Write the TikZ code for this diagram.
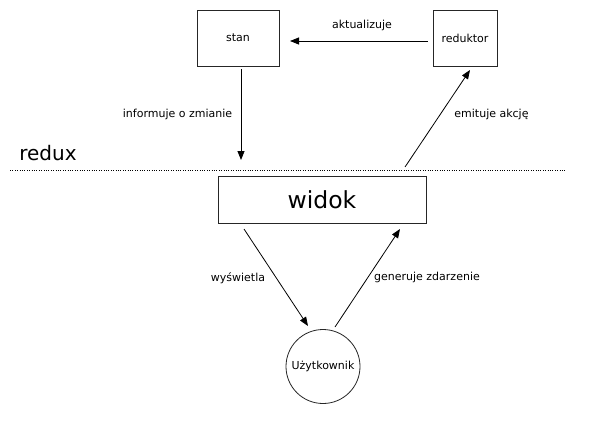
\documentclass[tikz,border=0pt]{standalone}
\usepackage{fontspec}
\setmainfont{DejaVu Sans}
\usetikzlibrary{arrows.meta}

\tikzset{
	box/.style={draw=black!85, line width=0.8pt, inner sep=0pt, font=\fontsize{11}{13}\selectfont},
	lbl/.style={inner sep=0pt, font=\fontsize{11}{13}\selectfont},
	flow/.style={line width=0.8pt, -{Triangle[length=9pt,width=7pt]}}
}

\begin{document}
\begin{tikzpicture}[x=1pt, y=-1pt]
			%%%%% START %%%%%
			\useasboundingbox (0, 0) rectangle (593, 426);
			
			\node[box, minimum width=82pt, minimum height=56pt] (stan) at (238, 38) {stan};
			\node[box, minimum width=64pt, minimum height=56pt] (reduktor) at (465, 38) {reduktor};
			\node[box, minimum width=208pt, minimum height=47pt, font=\fontsize{23.5}{26}\selectfont] (widok) at (322, 199.5) {widok};
			\node[box, circle, minimum size=74pt] (user) at (323, 366.5) {Użytkownik};
			
			\node[lbl, font=\fontsize{20}{22}\selectfont] (redux) at (48, 153) {redux};
			\draw[line width=0.6pt, dash pattern=on 0.8pt off 1.6pt] (10, 170) -- (565, 170);
			
			% redux
			\coordinate (stanEnd) at (241, 160);
			\coordinate (akcjaStart) at (405, 167);
			\coordinate (akcjaEnd) at (470, 70);
			\draw[flow, shorten <=5pt] (reduktor.west |- 0, 41) -- (290, 41);
			\draw[flow, shorten <=3pt] (stan.south -| stanEnd) -- (stanEnd);
			\draw[flow] (akcjaStart) -- (akcjaEnd);
			
			\node[lbl] (aktualizuje) at (362, 25) {aktualizuje};
			\node[lbl] (informuje) at (177.5, 114) {informuje o zmianie};
			\node[lbl] (emituje) at (491.5, 114) {emituje akcję};
			
			% widok / uzytkownik
			\coordinate (wysStart) at (244, 229);
			\coordinate (wysEnd) at (308, 326);
			\coordinate (genStart) at (335, 327);
			\coordinate (genEnd) at (400, 229);
			\draw[flow] (wysStart) -- (wysEnd);
			\draw[flow] (genStart) -- (genEnd);
			
			\node[lbl] (wyswietla) at (238, 278) {wyświetla};
			\node[lbl] (generuje) at (427, 277) {generuje zdarzenie};
			
			%%%%% END %%%%%
		\end{tikzpicture}
\end{document}
